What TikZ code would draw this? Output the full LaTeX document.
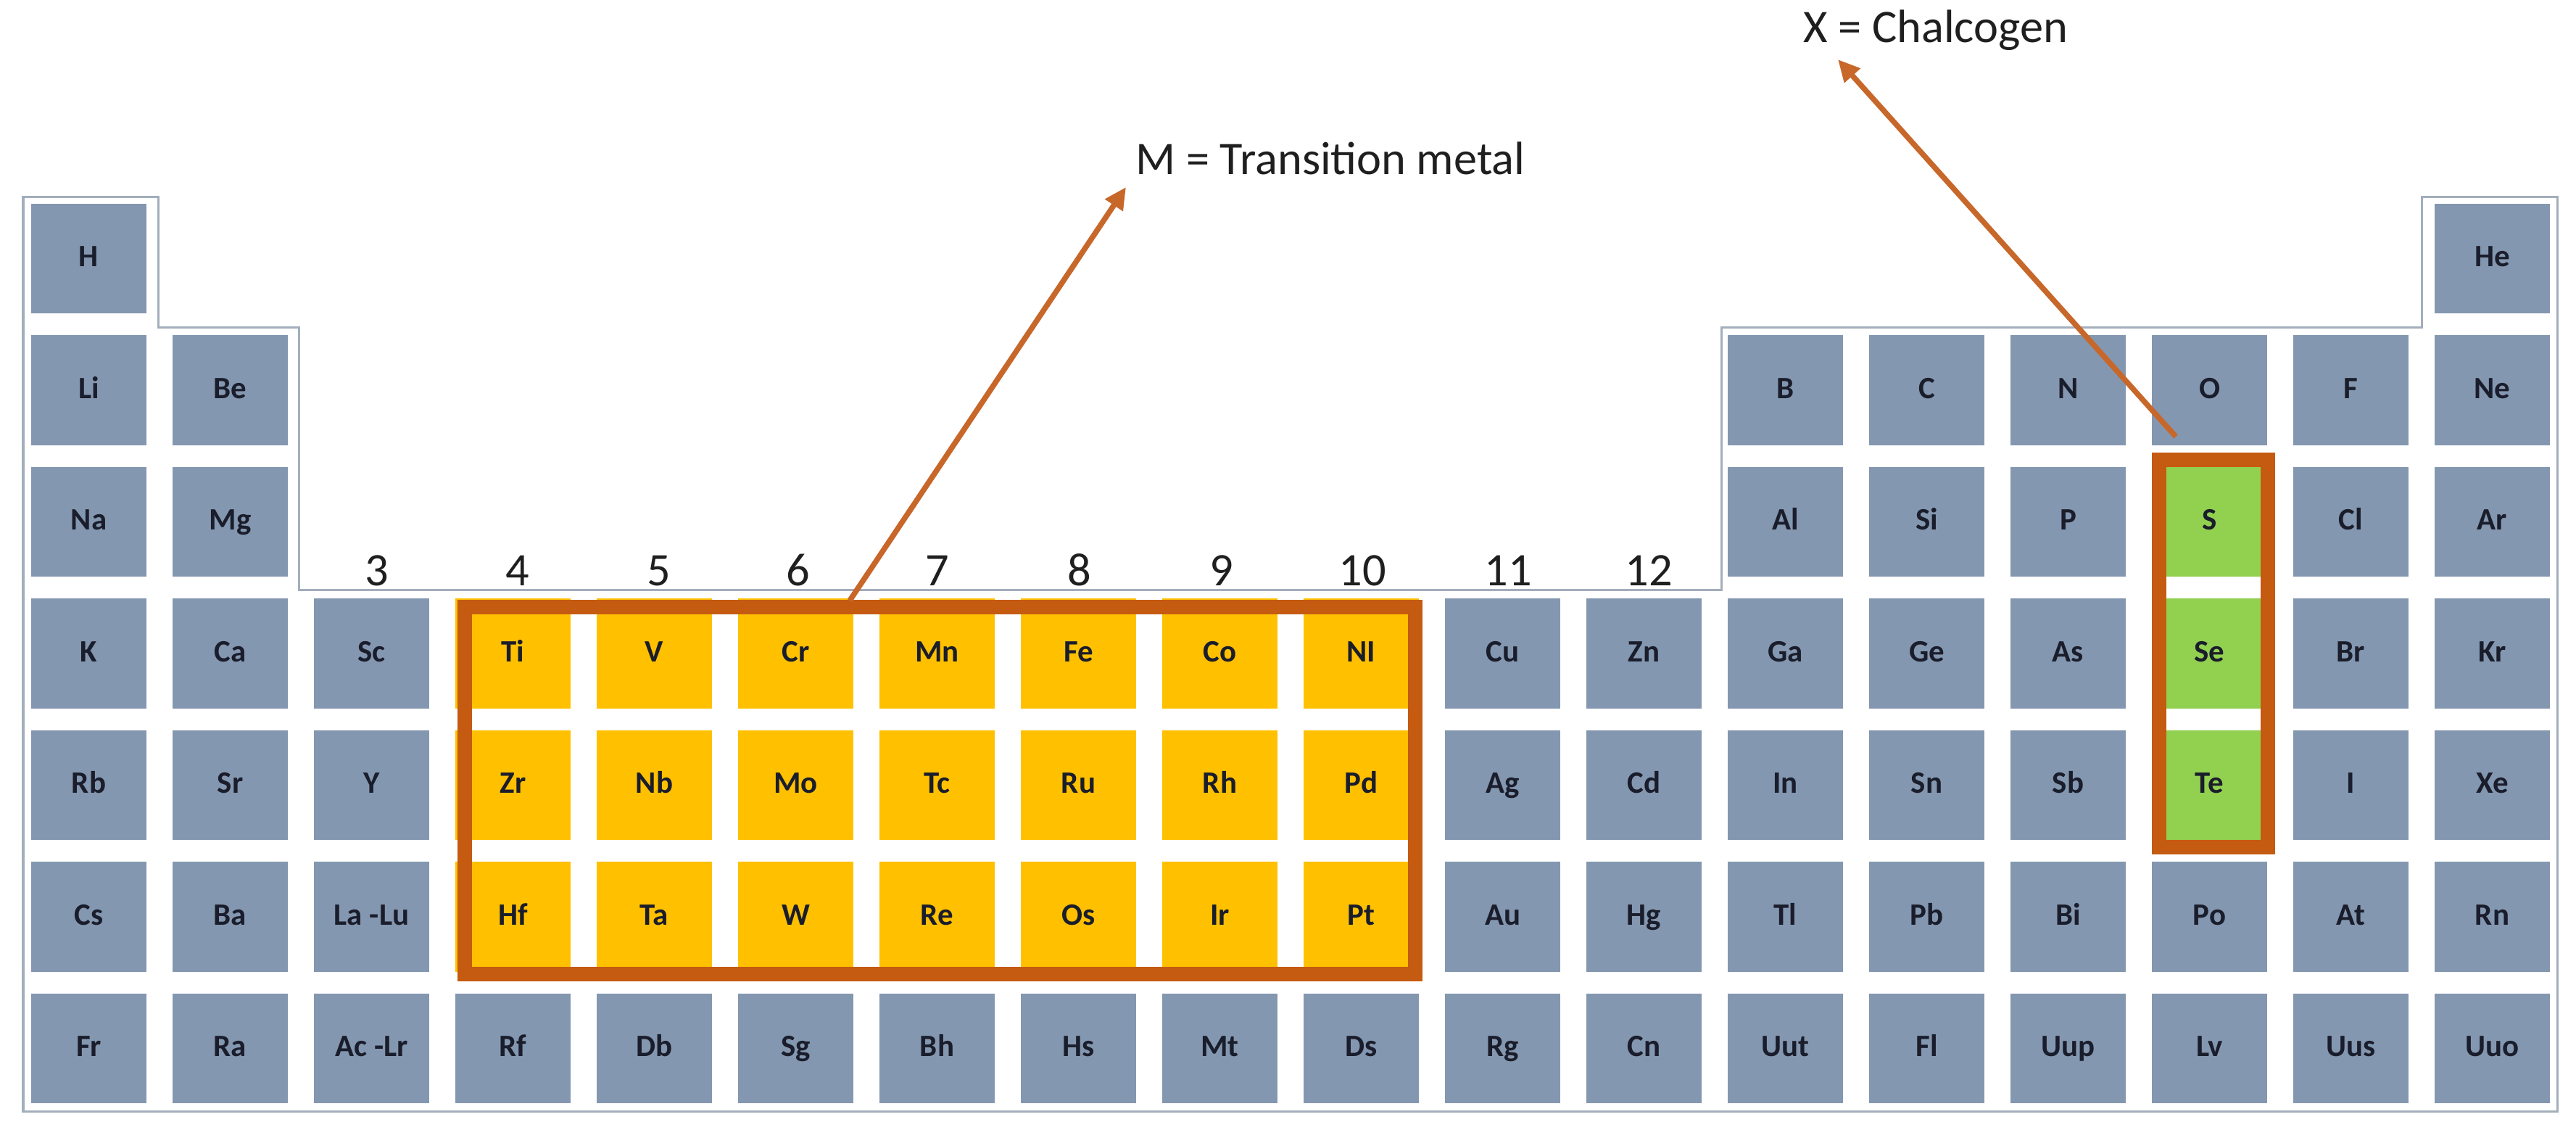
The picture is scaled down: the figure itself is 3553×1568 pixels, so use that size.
\documentclass[tikz,border=0pt]{standalone}
\usepackage{fontspec}
\setmainfont{Carlito}
\usetikzlibrary{arrows.meta}
\definecolor{cellgray}{HTML}{8497B0}
\definecolor{cellyellow}{HTML}{FFC000}
\definecolor{cellgreen}{HTML}{92D050}
\definecolor{boxorange}{HTML}{C55A11}
\definecolor{arroworange}{HTML}{C7672A}
\definecolor{outlinegray}{HTML}{A3AEBC}
\definecolor{symtext}{HTML}{1A1D2B}
\tikzset{
  elem/.style={rectangle, inner sep=0pt, minimum width=1.59cm, minimum height=1.51cm,
    text height=0.644em, text depth=0pt,
    text=symtext, font=\fontsize{12.2}{14}\selectfont\bfseries},
  gcell/.style={elem, fill=cellgray},
  ycell/.style={elem, fill=cellyellow},
  scell/.style={elem, fill=cellgreen},
  groupnum/.style={anchor=base, inner sep=0pt, text=black!88, font=\fontsize{18.3}{22}\selectfont},
  callout/.style={anchor=base west, inner sep=0pt, text=black!88, font=\fontsize{18.3}{22}\selectfont},
  hlbox/.style={rectangle, draw=boxorange, line width=0.2cm, inner sep=0pt},
  pointer/.style={draw=arroworange, line width=0.075cm, -{Triangle[length=0.3cm,width=0.28cm]}},
  tableoutline/.style={draw=outlinegray, line width=0.03cm}
}
\begin{document}
\begin{tikzpicture}[x=0.01cm, y=-0.01cm]
\useasboundingbox[fill=white] (0,0) rectangle (3553,1568);
% table outline
\draw[tableoutline] (32,271) -- (218,271) -- (218,451) -- (412,451) -- (412,813)
  -- (2374,813) -- (2374,451) -- (3340,451) -- (3340,271) -- (3527,271)
  -- (3527,1532) -- (32,1532) -- cycle;
% element cells
\foreach \c/\r/\t/\st in {
 1/1/H/gcell, 18/1/He/gcell,
 1/2/Li/gcell, 2/2/Be/gcell, 13/2/B/gcell, 14/2/C/gcell, 15/2/N/gcell, 16/2/O/gcell, 17/2/F/gcell, 18/2/Ne/gcell,
 1/3/Na/gcell, 2/3/Mg/gcell, 13/3/Al/gcell, 14/3/Si/gcell, 15/3/P/gcell, 16/3/S/scell, 17/3/Cl/gcell, 18/3/Ar/gcell,
 1/4/K/gcell, 2/4/Ca/gcell, 3/4/Sc/gcell, 4/4/Ti/ycell, 5/4/V/ycell, 6/4/Cr/ycell, 7/4/Mn/ycell, 8/4/Fe/ycell, 9/4/Co/ycell, 10/4/NI/ycell,
 11/4/Cu/gcell, 12/4/Zn/gcell, 13/4/Ga/gcell, 14/4/Ge/gcell, 15/4/As/gcell, 16/4/Se/scell, 17/4/Br/gcell, 18/4/Kr/gcell,
 1/5/Rb/gcell, 2/5/Sr/gcell, 3/5/Y/gcell, 4/5/Zr/ycell, 5/5/Nb/ycell, 6/5/Mo/ycell, 7/5/Tc/ycell, 8/5/Ru/ycell, 9/5/Rh/ycell, 10/5/Pd/ycell,
 11/5/Ag/gcell, 12/5/Cd/gcell, 13/5/In/gcell, 14/5/Sn/gcell, 15/5/Sb/gcell, 16/5/Te/scell, 17/5/I/gcell, 18/5/Xe/gcell,
 1/6/Cs/gcell, 2/6/Ba/gcell, 3/6/La -Lu/gcell, 4/6/Hf/ycell, 5/6/Ta/ycell, 6/6/W/ycell, 7/6/Re/ycell, 8/6/Os/ycell, 9/6/Ir/ycell, 10/6/Pt/ycell,
 11/6/Au/gcell, 12/6/Hg/gcell, 13/6/Tl/gcell, 14/6/Pb/gcell, 15/6/Bi/gcell, 16/6/Po/gcell, 17/6/At/gcell, 18/6/Rn/gcell,
 1/7/Fr/gcell, 2/7/Ra/gcell, 3/7/Ac -Lr/gcell, 4/7/Rf/gcell, 5/7/Db/gcell, 6/7/Sg/gcell, 7/7/Bh/gcell, 8/7/Hs/gcell, 9/7/Mt/gcell, 10/7/Ds/gcell,
 11/7/Rg/gcell, 12/7/Cn/gcell, 13/7/Uut/gcell, 14/7/Fl/gcell, 15/7/Uup/gcell, 16/7/Lv/gcell, 17/7/Uus/gcell, 18/7/Uuo/gcell}
{
  \node[\st] (e-\c-\r) at ({122.5+(\c-1)*195},{356.5+(\r-1)*181.5}) {\t};
}
% group numbers
\foreach \n/\xx in {3/520, 4/714, 5/909, 6/1101, 7/1293, 8/1489, 9/1685, 10/1879, 11/2080, 12/2274}
{
  \node[groupnum] (grp-\n) at (\xx,807) {\n};
}
% highlight boxes
\node[hlbox, minimum width=13.11cm, minimum height=5.06cm] (tmbox) at (1296.5,1090) {};
\node[hlbox, minimum width=1.495cm, minimum height=5.34cm] (chbox) at (3053,901) {};
% callout labels
\node[callout] (mlabel) at (1566,240) {M = Transition metal};
\node[callout] (xlabel) at (2487,58) {X = Chalcogen};
% arrows
\coordinate (mtail) at (1172,828);
\coordinate (mtip) at (1553,258);
\coordinate (xtail) at (3001,602);
\coordinate (xtip) at (2535,82);
\draw[pointer] (mtail) -- (mtip);
\draw[pointer] (xtail) -- (xtip);
\end{tikzpicture}
\end{document}
